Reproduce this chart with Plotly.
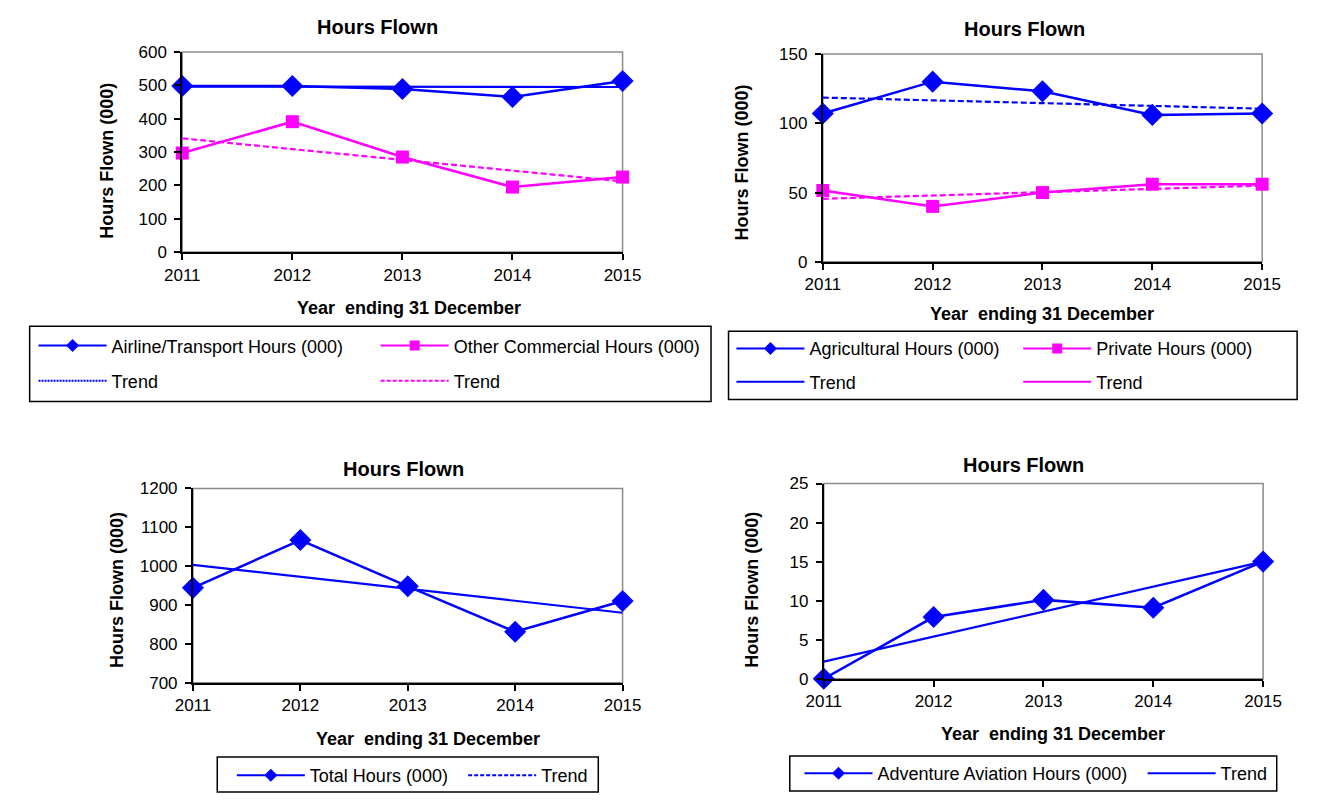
import plotly.graph_objects as go

# ---------------- data ----------------
years = [2011, 2012, 2013, 2014, 2015]
year_labels = ["2011", "2012", "2013", "2014", "2015"]
trend_years = [2011, 2015]

airline = [498, 498, 489, 465, 513]
airline_trend = [496, 495]
other_commercial = [297, 391, 285, 195, 225]
other_commercial_trend = [341, 212]

agricultural = [107, 130, 123, 106, 107]
agricultural_trend = [118.5, 110.5]
private = [51.5, 40, 50, 56, 56]
private_trend = [45.5, 55]

total = [944, 1067, 948, 831, 910]
total_trend = [1003, 880]

adventure = [0, 7.9, 10.1, 9.1, 15]
adventure_trend = [2.2, 15]

# ---------------- layout helpers ----------------
W, H = 1321, 803
FONT = "Liberation Sans, Arial, sans-serif"
BLUE = "#0000FF"
MAG = "#FF00FF"


def px(x):
    return x / W


def py(y):
    return 1 - y / H


# plot areas in pixels: (left, right, top, bottom)
areas = {
    1: (169, 622, 44, 249),
    2: (828, 1280, 46, 259),
    3: (180, 622, 491, 690),
    4: (829, 1281, 486, 686),
}
yranges = {1: ([0, 600], 100), 2: ([0, 150], 50), 3: ([700, 1200], 100), 4: ([0, 25], 5)}

fig = go.Figure()


def ax(i):
    return ("x" if i == 1 else f"x{i}"), ("y" if i == 1 else f"y{i}")


def series(i, yv, color, symbol, msize):
    xa, ya = ax(i)
    fig.add_trace(go.Scatter(
        x=years, y=yv, xaxis=xa, yaxis=ya, mode="lines+markers",
        line=dict(color=color, width=2.5),
        marker=dict(symbol=symbol, size=msize, color=color),
        cliponaxis=False, showlegend=False, hoverinfo="x+y"))


def trend(i, yv, color, dash):
    xa, ya = ax(i)
    fig.add_trace(go.Scatter(
        x=trend_years, y=yv, xaxis=xa, yaxis=ya, mode="lines",
        line=dict(color=color, width=2.2, dash=dash),
        cliponaxis=False, showlegend=False, hoverinfo="skip"))


series(1, airline, BLUE, "diamond", 17)
trend(1, airline_trend, BLUE, "solid")
series(1, other_commercial, MAG, "square", 13)
trend(1, other_commercial_trend, MAG, "6px,3px")

series(2, agricultural, BLUE, "diamond", 17)
trend(2, agricultural_trend, BLUE, "6px,3px")
series(2, private, MAG, "square", 13)
trend(2, private_trend, MAG, "6px,3px")

series(3, total, BLUE, "diamond", 17)
trend(3, total_trend, BLUE, "solid")

series(4, adventure, BLUE, "diamond", 17)
trend(4, adventure_trend, BLUE, "solid")

# ---------------- legends (one entry per legend box for exact placement) ----------------
legend_items = [
    # (name, color, symbol or None, dash, symbol-start x px, row centre y px)
    ("Airline/Transport Hours (000)", BLUE, "diamond", "solid", 21, 345),
    ("Other Commercial Hours (000)", MAG, "square", "solid", 373, 345),
    ("Trend", BLUE, None, "2px,1px", 21, 381),
    ("Trend", MAG, None, "4px,2px", 373, 381),
    ("Agricultural Hours (000)", BLUE, "diamond", "solid", 739, 348),
    ("Private Hours (000)", MAG, "square", "solid", 1034, 348),
    ("Trend", BLUE, None, "solid", 739, 382),
    ("Trend", MAG, None, "solid", 1034, 382),
    ("Total Hours (000)", BLUE, "diamond", "solid", 225, 785),
    ("Trend", BLUE, None, "4px,2px", 463, 785),
    ("Adventure Aviation Hours (000)", BLUE, "diamond", "solid", 809, 783),
    ("Trend", BLUE, None, "solid", 1162, 783),
]

for k, (name, color, sym, dash, sx, sy) in enumerate(legend_items):
    lname = "legend" if k == 0 else f"legend{k + 1}"
    fig.add_trace(go.Scatter(
        x=[None], y=[None], name=name, legend=lname,
        mode="lines+markers" if sym else "lines",
        line=dict(color=color, width=2, dash=dash),
        marker=dict(symbol=sym or "circle", size=10, color=color),
        showlegend=True, hoverinfo="skip"))
    fig.update_layout({lname: dict(
        x=px(sx - 5), y=py(sy), xanchor="left", yanchor="middle",
        bgcolor="rgba(0,0,0,0)", borderwidth=0, itemwidth=68,
        font=dict(family=FONT, size=18, color="black"),
        itemclick=False, itemdoubleclick=False)})

# ---------------- axes ----------------
layout_axes = {}
shapes = []
for i, (l, r, t, b) in areas.items():
    xa, ya = ax(i)
    xkey = "xaxis" if i == 1 else f"xaxis{i}"
    ykey = "yaxis" if i == 1 else f"yaxis{i}"
    rng, dt = yranges[i]
    layout_axes[xkey] = dict(
        domain=[px(l), px(r)], anchor=ya, range=[2011, 2015],
        tickvals=years, ticktext=year_labels, showgrid=False, zeroline=False,
        showline=True, linecolor="black", linewidth=2,
        ticks="outside", ticklen=6, tickwidth=1.5, tickcolor="black",
        tickfont=dict(family=FONT, size=17, color="black"), fixedrange=True)
    layout_axes[ykey] = dict(
        domain=[py(b), py(t)], anchor=xa, range=rng, dtick=dt, tick0=0,
        showgrid=False, zeroline=False,
        showline=True, linecolor="black", linewidth=2,
        ticks="outside", ticklen=6, tickwidth=1.5, tickcolor="black",
        ticklabelstandoff=4,
        tickfont=dict(family=FONT, size=17, color="black"), fixedrange=True)
    # grey plot-area frame (top & right edges visible)
    shapes.append(dict(type="rect", xref="paper", yref="paper",
                       x0=px(l), x1=px(r), y0=py(b), y1=py(t),
                       line=dict(color="#8C8C8C", width=1.5), layer="below"))

# legend frames
for (x0, x1, y0, y1) in [(12, 713, 325, 402), (731, 1316, 330, 400),
                         (205, 597, 766, 802), (794, 1295, 765, 801)]:
    shapes.append(dict(type="rect", xref="paper", yref="paper",
                       x0=px(x0), x1=px(x1), y0=py(y1), y1=py(y0),
                       line=dict(color="black", width=1.5)))

# ---------------- titles ----------------
annotations = []
for (cx, cy) in [(370, 18), (1036, 20), (397, 471), (1034, 467)]:
    annotations.append(dict(text="<b>Hours Flown</b>", x=px(cx), y=py(cy),
                            xref="paper", yref="paper", showarrow=False,
                            xanchor="center", yanchor="middle",
                            font=dict(family=FONT, size=20, color="black")))
for (cx, cy) in [(402, 306), (1053, 312), (422, 748), (1065, 743)]:
    annotations.append(dict(text="<b>Year  ending 31 December</b>", x=px(cx), y=py(cy),
                            xref="paper", yref="paper", showarrow=False,
                            xanchor="center", yanchor="middle",
                            font=dict(family=FONT, size=18, color="black")))
for (cx, cy) in [(92, 155), (745, 157), (102, 595), (755, 595)]:
    annotations.append(dict(text="<b>Hours Flown (000)</b>", x=px(cx), y=py(cy),
                            xref="paper", yref="paper", showarrow=False, textangle=-90,
                            xanchor="center", yanchor="middle",
                            font=dict(family=FONT, size=18, color="black")))

fig.update_layout(
    width=W, height=H, margin=dict(l=0, r=0, t=0, b=0),
    paper_bgcolor="white", plot_bgcolor="white",
    shapes=shapes, annotations=annotations, hovermode="closest",
    **layout_axes)

fig.write_html("out.html", config={"displayModeBar": False})
